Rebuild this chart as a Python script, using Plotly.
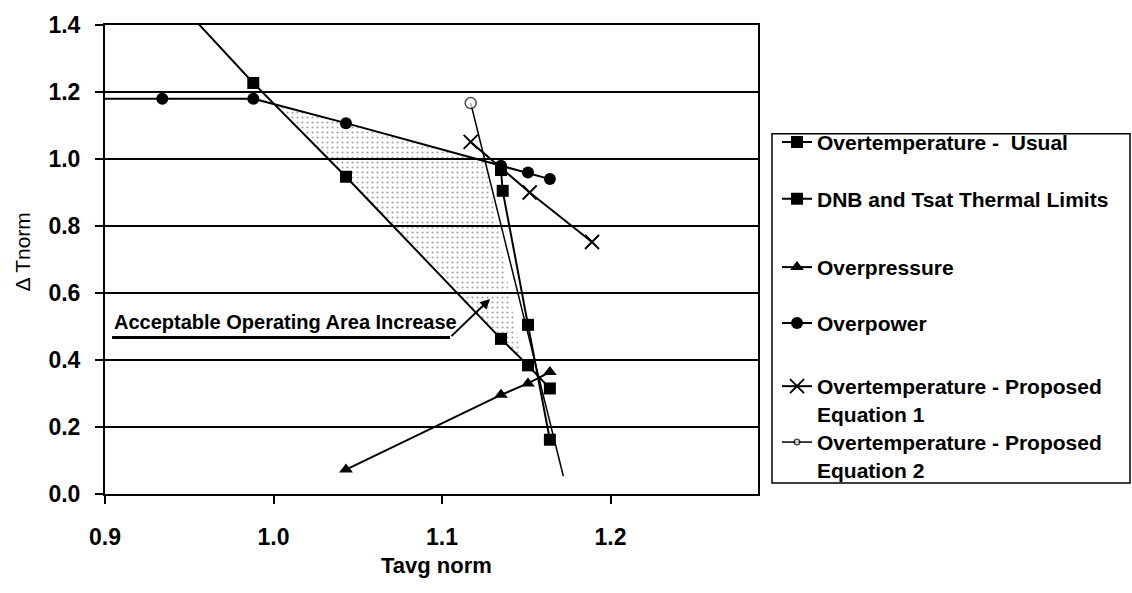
import plotly.graph_objects as go

# Normalised average temperature grid shared by the trip-function curves
t_usual = [0.934, 0.988, 1.043, 1.135, 1.151, 1.164]
dt_usual = [1.52, 1.227, 0.947, 0.463, 0.384, 0.315]

t_dnb = [1.135, 1.136, 1.151, 1.164]
dt_dnb = [0.967, 0.905, 0.505, 0.162]

t_op = [1.043, 1.135, 1.151, 1.164]
dt_op = [0.073, 0.296, 0.330, 0.364]

t_opw = [0.879, 0.934, 0.988, 1.043, 1.135, 1.151, 1.164]
dt_opw = [1.18, 1.18, 1.18, 1.107, 0.980, 0.960, 0.940]

t_eq1 = [1.117, 1.152, 1.189]
dt_eq1 = [1.051, 0.900, 0.752]

t_eq2 = [1.117, 1.172]
dt_eq2 = [1.167, 0.053]

# Region gained between the usual and proposed setpoints
area_t = [1.000, 1.043, 1.126, 1.147, 1.135, 1.043, 1.000]
area_dt = [1.164, 1.105, 0.993, 0.404, 0.463, 0.947, 1.164]

y_ticks = [0.0, 0.2, 0.4, 0.6, 0.8, 1.0, 1.2, 1.4]
x_ticks = [0.9, 1.0, 1.1, 1.2]

names = [
    "Overtemperature -\u00a0 Usual",
    "DNB and Tsat Thermal Limits",
    "Overpressure",
    "Overpower",
    "Overtemperature - Proposed<br>Equation 1",
    "Overtemperature - Proposed<br>Equation 2",
]

FONT = "Liberation Sans, Arial, sans-serif"
BLACK = "black"

fig = go.Figure()

fig.add_trace(go.Scatter(
    x=area_t, y=area_dt, mode="lines", fill="toself",
    fillcolor="rgba(0,0,0,0)",
    fillpattern=dict(shape=".", fgcolor="#444", bgcolor="rgba(0,0,0,0)",
                     size=5, solidity=0.14),
    line=dict(width=0), showlegend=False, hoverinfo="skip",
))

legend_ids = ["legend", "legend2", "legend3", "legend4", "legend5", "legend6"]

def series(idx, x, y, symbol, size, width=2, fill=BLACK, **marker_extra):
    marker = dict(symbol=symbol, size=size, color=fill)
    marker.update(marker_extra)
    fig.add_trace(go.Scatter(
        x=x, y=y, name=names[idx], mode="lines+markers",
        line=dict(color=BLACK, width=width), marker=marker,
        legend=legend_ids[idx],
    ))

series(0, t_usual, dt_usual, "square", 12)
series(1, t_dnb, dt_dnb, "square", 12)
series(2, t_op, dt_op, "triangle-up", 12)
series(3, t_opw, dt_opw, "circle", 12)
series(4, t_eq1, dt_eq1, "x-thin-open", 14, line=dict(color=BLACK, width=2))
series(5, t_eq2, dt_eq2, "circle", [11, 0], width=1.5, fill="white",
       line=dict(color=BLACK, width=1.5))

# Callout with underline and arrow pointing into the gained region
fig.add_annotation(
    x=0.9042, y=0.514, xref="x", yref="y", xanchor="left", yanchor="middle",
    text="Acceptable Operating Area Increase", showarrow=False,
    font=dict(family=FONT, size=20, color=BLACK, weight="bold"),
)
fig.add_shape(type="line", x0=0.9042, y0=0.467, x1=1.1047, y1=0.467,
              xref="x", yref="y", line=dict(color=BLACK, width=3))
fig.add_annotation(
    x=1.1285, y=0.582, ax=1.1047, ay=0.467, xref="x", yref="y",
    axref="x", ayref="y", text="", showarrow=True,
    arrowhead=2, arrowsize=1, arrowwidth=2, arrowcolor=BLACK, standoff=0,
)

# Axis titles
fig.add_annotation(
    x=0.5084, y=-0.152, xref="paper", yref="paper",
    xanchor="center", yanchor="middle", text="Tavg norm", showarrow=False,
    font=dict(family=FONT, size=22, color=BLACK, weight="bold"),
)
fig.add_annotation(
    x=-0.127, y=0.515, xref="paper", yref="paper",
    xanchor="center", yanchor="middle", text="Δ Tnorm", textangle=-90,
    showarrow=False, font=dict(family=FONT, size=21, color=BLACK),
)

# Frame around the key
fig.add_shape(type="rect", xref="paper", yref="paper",
              x0=1.0214, x1=1.5697, y0=0.0232, y1=0.768,
              line=dict(color=BLACK, width=1.5), fillcolor="rgba(0,0,0,0)",
              layer="below")

legend_font = dict(family=FONT, size=21, color=BLACK, weight="bold")
legend_y = [0.7500, 0.6290, 0.4830, 0.3640, 0.2004, 0.0812]
legend_layout = {}
for lid, ly in zip(legend_ids, legend_y):
    legend_layout[lid] = dict(
        x=1.0291, y=ly, xanchor="left", yanchor="middle",
        bgcolor="rgba(0,0,0,0)", borderwidth=0, valign="top",
        font=legend_font,
    )

fig.update_layout(
    width=1132, height=593,
    margin=dict(l=105, r=374, t=20, b=99),
    paper_bgcolor="white", plot_bgcolor="white",
    font=dict(family=FONT, color=BLACK),
    showlegend=True,
    **legend_layout,
    xaxis=dict(
        range=[0.9, 1.2875], tickvals=x_ticks, tickformat=".1f",
        showgrid=False, zeroline=False,
        showline=True, linecolor=BLACK, linewidth=2, mirror=True,
        ticks="outside", ticklen=8, tickwidth=2, tickcolor=BLACK,
        ticklabelstandoff=13,
        tickfont=dict(family=FONT, size=23, color=BLACK, weight="bold"),
    ),
    yaxis=dict(
        range=[0, 1.4], tickvals=y_ticks, tickformat=".1f",
        showgrid=True, gridcolor=BLACK, gridwidth=2, zeroline=False,
        showline=True, linecolor=BLACK, linewidth=2, mirror=True,
        ticks="outside", ticklen=8, tickwidth=2, tickcolor=BLACK,
        ticklabelstandoff=10,
        tickfont=dict(family=FONT, size=23, color=BLACK, weight="bold"),
    ),
)

fig.write_html("out.html")
